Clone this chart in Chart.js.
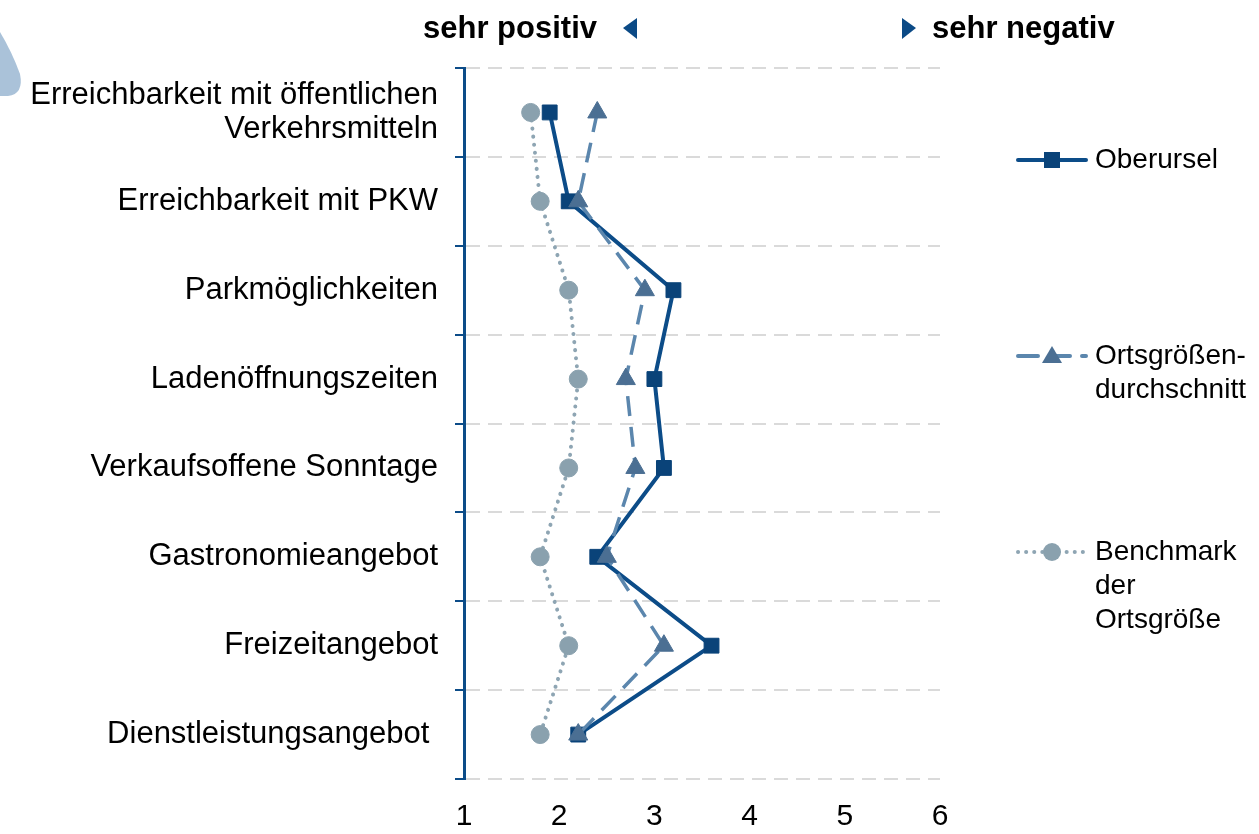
<!DOCTYPE html>
<html lang="de">
  <head>
    <meta charset="UTF-8" />
    <title>Standortbewertung</title>
    <script src="https://cdn.jsdelivr.net/npm/chart.js"></script>
    <style>
      body { margin: 0; background: #fff; }
      #wrap { width: 1259px; height: 834px; }
    </style>
  </head>
  <body>
    <div id="wrap">
      <canvas id="profileChart" width="1259" height="834"></canvas>
    </div>

    <script>
      const categories = [
        ["Erreichbarkeit mit öffentlichen", "Verkehrsmitteln"],
        "Erreichbarkeit mit PKW",
        "Parkmöglichkeiten",
        "Ladenöffnungszeiten",
        "Verkaufsoffene Sonntage",
        "Gastronomieangebot",
        "Freizeitangebot",
        "Dienstleistungsangebot ",
      ];
      const oberursel = [1.9, 2.1, 3.2, 3.0, 3.1, 2.4, 3.6, 2.2];
      const ortsgroessenSchnitt = [2.4, 2.2, 2.9, 2.7, 2.8, 2.5, 3.1, 2.2];
      const benchmark = [1.7, 1.8, 2.1, 2.2, 2.1, 1.8, 2.1, 1.8];
      const scaleMin = 1;
      const scaleMax = 6;

      const FONT = "'Liberation Sans', Arial, sans-serif";
      const DARK = "#0c4c88";
      const MID = "#5b86ad";
      const LIGHT = "#8ea5b3";

      Chart.defaults.font.family = FONT;
      Chart.defaults.color = "#000";

      // header texts, arrows, legend and the little blob in the corner
      const decorations = {
        id: "decorations",
        afterDraw(chart) {
          const ctx = chart.ctx;
          ctx.save();

          // faint shape top-left
          ctx.fillStyle = "#aac2d9";
          ctx.beginPath();
          ctx.moveTo(0, 32);
          ctx.quadraticCurveTo(12, 52, 20, 74);
          ctx.quadraticCurveTo(24, 94, 8, 96);
          ctx.lineTo(0, 96);
          ctx.closePath();
          ctx.fill();

          // header
          ctx.fillStyle = "#000";
          ctx.font = "bold 31px " + FONT;
          ctx.textBaseline = "middle";
          ctx.textAlign = "right";
          ctx.fillText("sehr positiv", 597, 29);
          ctx.textAlign = "left";
          ctx.fillText("sehr negativ", 932, 29);

          ctx.fillStyle = "#0b4a86";
          ctx.beginPath();
          ctx.moveTo(623, 28);
          ctx.lineTo(637, 18);
          ctx.lineTo(637, 39);
          ctx.closePath();
          ctx.fill();
          ctx.beginPath();
          ctx.moveTo(916, 28);
          ctx.lineTo(902, 18);
          ctx.lineTo(902, 39);
          ctx.closePath();
          ctx.fill();

          // legend
          const items = [
            { y: 160, lines: ["Oberursel"], color: DARK, fill: "#0a4379", dash: [], style: "rect" },
            { y: 356, lines: ["Ortsgrößen-", "durchschnitt"], color: MID, fill: "#4b6f93", dash: [20, 12], style: "triangle" },
            { y: 552, lines: ["Benchmark", "der", "Ortsgröße"], color: LIGHT, fill: "#8aa1ae", dash: [0.1, 8], style: "circle" },
          ];
          items.forEach((it) => {
            ctx.strokeStyle = it.color;
            ctx.lineWidth = 4;
            ctx.lineCap = "round";
            ctx.setLineDash(it.dash);
            ctx.beginPath();
            ctx.moveTo(1018, it.y);
            ctx.lineTo(1086, it.y);
            ctx.stroke();
            ctx.setLineDash([]);
            ctx.fillStyle = it.fill;
            const cx = 1052;
            if (it.style === "rect") {
              ctx.fillRect(cx - 8, it.y - 8, 16, 16);
            } else if (it.style === "triangle") {
              ctx.beginPath();
              ctx.moveTo(cx, it.y - 10);
              ctx.lineTo(cx + 10, it.y + 7);
              ctx.lineTo(cx - 10, it.y + 7);
              ctx.closePath();
              ctx.fill();
            } else {
              ctx.beginPath();
              ctx.arc(cx, it.y, 9, 0, Math.PI * 2);
              ctx.fill();
            }
            ctx.fillStyle = "#000";
            ctx.font = "28px " + FONT;
            ctx.textAlign = "left";
            ctx.textBaseline = "middle";
            it.lines.forEach((t, i) => ctx.fillText(t, 1095, it.y + i * 34));
          });

          ctx.restore();
        },
      };

      new Chart(document.getElementById("profileChart"), {
        type: "line",
        data: {
          labels: categories,
          datasets: [
            {
              label: "Oberursel",
              data: oberursel,
              borderColor: DARK,
              backgroundColor: "#0a4379",
              borderWidth: 4,
              pointStyle: "rect",
              pointRadius: 10.5,
              pointBorderWidth: 1,
              pointBorderColor: "#0a4379",
              tension: 0,
              order: 1,
            },
            {
              label: "Ortsgrößendurchschnitt",
              data: ortsgroessenSchnitt,
              borderColor: MID,
              backgroundColor: "#4b6f93",
              borderWidth: 3.5,
              borderDash: [20, 11],
              pointStyle: "triangle",
              pointRadius: 11,
              pointBorderWidth: 1,
              pointBorderColor: "#4b6f93",
              tension: 0,
              order: 0,
            },
            {
              label: "Benchmark der Ortsgröße",
              data: benchmark,
              borderColor: LIGHT,
              backgroundColor: "#8aa1ae",
              borderWidth: 4,
              borderDash: [0.1, 8],
              borderCapStyle: "round",
              pointStyle: "circle",
              pointRadius: 9,
              pointBorderWidth: 1,
              pointBorderColor: "#8aa1ae",
              tension: 0,
              order: 2,
            },
          ],
        },
        options: {
          indexAxis: "y",
          responsive: false,
          animation: false,
          layout: { padding: { left: 0, top: 68, right: 319, bottom: 0 } },
          plugins: { legend: { display: false }, tooltip: { enabled: false } },
          scales: {
            y: {
              type: "category",
              offset: true,
              afterFit: (scale) => { scale.width = 464; },
              grid: {
                offset: true,
                color: "#dadada",
                lineWidth: 2,
                tickColor: DARK,
                tickWidth: 2,
                tickLength: 9,
              },
              border: { display: true, color: DARK, width: 3, dash: [14, 8] },
              ticks: {
                autoSkip: false,
                padding: 17,
                color: "#000",
                font: { size: 31, lineHeight: 1.1 },
              },
            },
            x: {
              type: "linear",
              min: scaleMin,
              max: scaleMax,
              afterFit: (scale) => { scale.height = 55; },
              grid: { display: false, drawTicks: false },
              border: { display: false },
              ticks: {
                stepSize: 1,
                padding: 20,
                color: "#000",
                font: { size: 30 },
              },
            },
          },
        },
        plugins: [decorations],
      });
    </script>
  </body>
</html>
